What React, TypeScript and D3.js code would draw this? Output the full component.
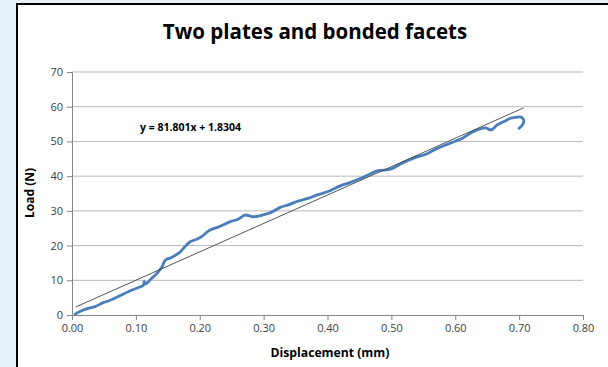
import React, { useRef, useEffect } from 'react';
import * as d3 from 'd3';

const xTicks = [0, 0.1, 0.2, 0.3, 0.4, 0.5, 0.6, 0.7, 0.8];
const yTicks = [0, 10, 20, 30, 40, 50, 60, 70];

// displacement (mm) / load (N)
const dispValues = [
  0.005, 0.015, 0.025, 0.036, 0.048, 0.058, 0.067, 0.080, 0.094, 0.104, 0.112, 0.113, 0.116, 0.122,
  0.133, 0.141, 0.146, 0.155, 0.167, 0.177, 0.185, 0.195, 0.203, 0.216, 0.230, 0.248, 0.260, 0.271,
  0.284, 0.298, 0.311, 0.326, 0.340, 0.352, 0.368, 0.384, 0.400, 0.420, 0.436, 0.455, 0.478, 0.499,
  0.515, 0.535, 0.555, 0.572, 0.598, 0.612, 0.624, 0.637, 0.648, 0.656, 0.666, 0.677, 0.687, 0.697,
  0.703, 0.707, 0.706, 0.700
];
const loadValues = [
  0.3, 1.2, 1.9, 2.4, 3.5, 4.1, 4.8, 6.0, 7.2, 7.9, 8.6, 9.6, 9.0, 10.1,
  12.0, 13.9, 15.8, 16.5, 17.8, 19.7, 21.1, 21.8, 22.6, 24.5, 25.4, 26.9, 27.6, 28.8,
  28.3, 28.8, 29.5, 31.0, 31.8, 32.7, 33.5, 34.6, 35.5, 37.2, 38.2, 39.6, 41.5, 42.0,
  43.6, 45.2, 46.4, 48.0, 49.9, 51.0, 52.4, 53.5, 53.9, 53.3, 54.8, 55.8, 56.7, 57.0,
  57.0, 56.2, 55.0, 53.8
];

const slope = 81.801;
const intercept = 1.8304;
const trendRange = [0.006, 0.707];

const App = () => {
  const svgRef = useRef<SVGSVGElement>(null);
  const width = 608;
  const height = 367;

  useEffect(() => {
    const svg = d3.select(svgRef.current);
    svg.selectAll('*').remove();

    const x = d3.scaleLinear().domain([0, 0.8]).range([72, 583]);
    const y = d3.scaleLinear().domain([0, 70]).range([315, 72]);
    const font = '"Open Sans", Lato, sans-serif';

    // page background and chart frame
    svg.append('rect').attr('width', width).attr('height', height).attr('fill', '#e5f2fc');
    svg.append('rect')
      .attr('x', 17).attr('y', 4)
      .attr('width', 600).attr('height', 380)
      .attr('fill', '#ffffff')
      .attr('stroke', '#000').attr('stroke-width', 2);

    // gridlines
    svg.append('g')
      .selectAll('line')
      .data(yTicks.filter(d => d > 0))
      .enter().append('line')
      .attr('x1', x(0)).attr('x2', x(0.8))
      .attr('y1', d => y(d)).attr('y2', d => y(d))
      .attr('stroke', '#b8b8b8').attr('stroke-width', 1);

    // x axis
    const xAxis = svg.append('g')
      .attr('transform', `translate(0,${y(0)})`)
      .call(d3.axisBottom(x).tickValues(xTicks).tickFormat(d3.format('.2f')).tickSize(5).tickPadding(4));
    xAxis.select('.domain').attr('stroke', '#868686');
    xAxis.selectAll('.tick line').attr('stroke', '#868686');
    xAxis.selectAll('text')
      .attr('fill', '#404040')
      .style('font-family', font)
      .style('font-size', '11px');

    // y axis
    const yAxis = svg.append('g')
      .attr('transform', `translate(${x(0)},0)`)
      .call(d3.axisLeft(y).tickValues(yTicks).tickSize(5).tickPadding(4));
    yAxis.select('.domain').attr('stroke', '#868686');
    yAxis.selectAll('.tick line').attr('stroke', '#868686');
    yAxis.selectAll('text')
      .attr('fill', '#404040')
      .style('font-family', font)
      .style('font-size', '11px');

    // data curve
    const pts = dispValues.map((d, i) => [d, loadValues[i]] as [number, number]);
    const line = d3.line<[number, number]>()
      .x(d => x(d[0]))
      .y(d => y(d[1]))
      .curve(d3.curveCatmullRom);

    svg.append('path')
      .datum(pts)
      .attr('fill', 'none')
      .attr('stroke', '#4a7ebb')
      .attr('stroke-width', 2.8)
      .attr('stroke-linejoin', 'round')
      .attr('stroke-linecap', 'round')
      .attr('d', line);

    // linear trendline
    svg.append('line')
      .attr('x1', x(trendRange[0])).attr('y1', y(slope * trendRange[0] + intercept))
      .attr('x2', x(trendRange[1])).attr('y2', y(slope * trendRange[1] + intercept))
      .attr('stroke', '#444').attr('stroke-width', 0.9);

    svg.append('text')
      .attr('x', 140).attr('y', 131)
      .attr('font-family', font).attr('font-size', 10.5).attr('font-weight', 'bold')
      .attr('fill', '#000')
      .text(`y = ${slope}x + ${intercept}`);

    // titles
    svg.append('text')
      .attr('x', 315).attr('y', 39)
      .attr('text-anchor', 'middle')
      .attr('font-family', font).attr('font-size', 20.5).attr('font-weight', 'bold')
      .text('Two plates and bonded facets');

    svg.append('text')
      .attr('x', 330).attr('y', 357)
      .attr('text-anchor', 'middle')
      .attr('font-family', font).attr('font-size', 12.2).attr('font-weight', 'bold')
      .text('Displacement (mm)');

    svg.append('text')
      .attr('transform', 'translate(34,193) rotate(-90)')
      .attr('text-anchor', 'middle')
      .attr('font-family', font).attr('font-size', 12).attr('font-weight', 'bold')
      .text('Load (N)');
  }, []);

  return (
    <svg ref={svgRef} width={width} height={height} style={{ position: 'absolute', left: 0, top: 0 }}>
      {/* chart drawn in effect */}
    </svg>
  );
};

export default App;
